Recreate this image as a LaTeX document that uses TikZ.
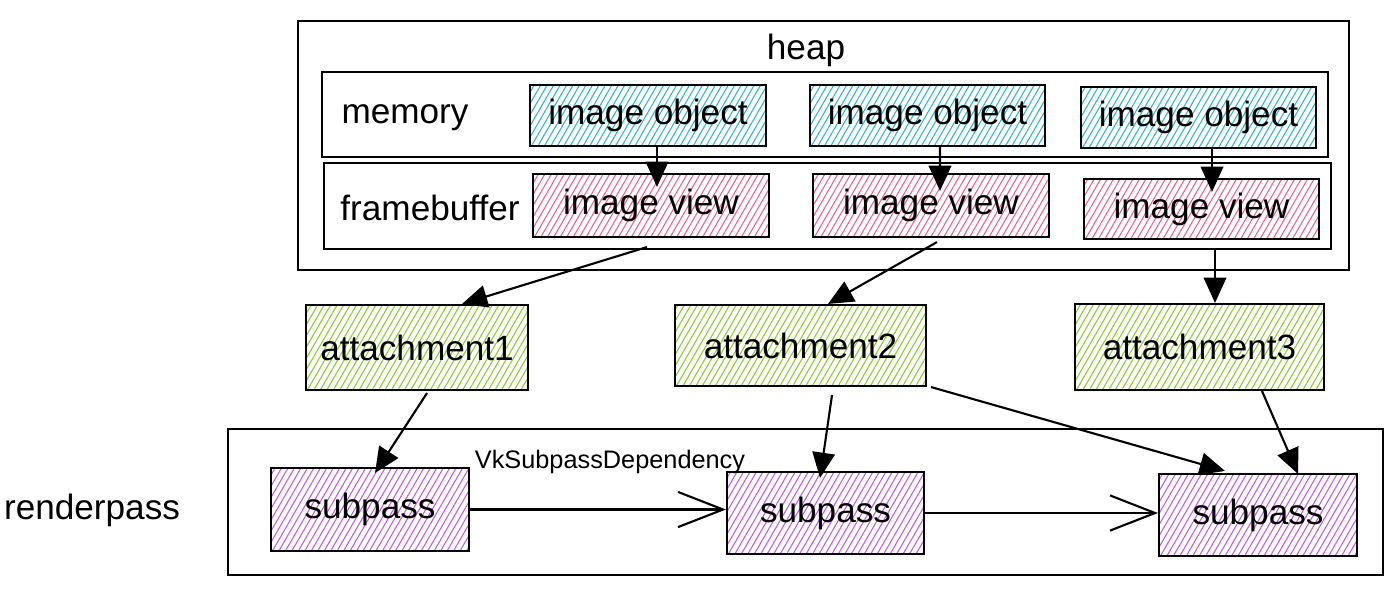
\documentclass[tikz,border=0pt]{standalone}
\usepackage{fontspec}
\setmainfont{Liberation Sans}
\usetikzlibrary{arrows.meta,fit,calc}
\definecolor{cyanh}{HTML}{2FB5CA}
\definecolor{pinkh}{HTML}{E8638C}
\definecolor{greenh}{HTML}{8CCB2E}
\definecolor{violeth}{HTML}{BF5CDC}
\tikzset{
  hatch/.style={path picture={
    \foreach \k in {0,...,50}{
      \draw[#1,line width=0.75pt] ($(path picture bounding box.south west)+(\k*4.6pt-45pt,0pt)$) -- ++(60:110pt);
    }}},
  cont/.style={draw, line width=1.5pt, inner sep=0pt},
  box/.style={draw, line width=1.5pt, inner sep=0pt},
  txt/.style={inner sep=0pt, font=\fontsize{25}{30}\selectfont},
  lbl/.style={inner sep=0pt, font=\fontsize{25}{30}\selectfont},
  small/.style={inner sep=0pt, font=\fontsize{18}{22}\selectfont},
  arr/.style={line width=1.5pt, -{Triangle[length=18pt,width=16pt]}},
  barb/.style={line width=1.5pt, -{Straight Barb[length=32pt,width=25pt,line width=1.5pt]}},
}
\begin{document}
\begin{tikzpicture}[x=0.025cm,y=-0.025cm]
\useasboundingbox (0,0) rectangle (1398,594);
% containers
\node[cont, fit={(298,21)(1349,270)}] (heapbox) {};
\node[cont, fit={(322,72)(1328,157)}] (membox) {};
\node[cont, fit={(324,163)(1331,249)}] (fbbox) {};
\node[cont, fit={(228,429)(1383,575)}] (rpbox) {};
% labels
\node[lbl] (heap) at (806,50) {heap};
\node[lbl] (memory) at (405,118) {memory};
\node[lbl] (framebuffer) at (430,208) {framebuffer};
\node[lbl] (renderpass) at (92,510) {renderpass};
% image objects
\node[box, hatch=cyanh, fit={(530,85)(766,146)}, label={[txt]center:image object}] (io1) {};
\node[box, hatch=cyanh, fit={(810,85)(1045,146)}, label={[txt]center:image object}] (io2) {};
\node[box, hatch=cyanh, fit={(1081,87)(1316,148)}, label={[txt]center:image object}] (io3) {};
% image views
\node[box, hatch=pinkh, fit={(533,174)(769,237)}, label={[txt]center:image view}] (iv1) {};
\node[box, hatch=pinkh, fit={(813,174)(1049,237)}, label={[txt]center:image view}] (iv2) {};
\node[box, hatch=pinkh, fit={(1084,179)(1319,239)}, label={[txt]center:image view}] (iv3) {};
% attachments
\node[box, hatch=greenh, fit={(306,305)(528,390)}, label={[txt]center:attachment1}] (at1) {};
\node[box, hatch=greenh, fit={(675,305)(926,386)}, label={[txt]center:attachment2}] (at2) {};
\node[box, hatch=greenh, fit={(1075,304)(1324,390)}, label={[txt]center:attachment3}] (at3) {};
% subpasses
\node[box, hatch=violeth, fit={(271,468)(469,551)}, label={[txt]center:subpass}] (sp1) {};
\node[box, hatch=violeth, fit={(727,472)(924,554)}, label={[txt]center:subpass}] (sp2) {};
\node[box, hatch=violeth, fit={(1159,474)(1357,556)}, label={[txt]center:subpass}] (sp3) {};
\node[small] (dep) at (610,462) {VkSubpassDependency};
% arrows
\draw[arr] ($(io1.south)+(9,0)$) -- ($(iv1.north)+(6,14)$);
\draw[arr] ($(io2.south)+(12.5,0)$) -- ($(iv2.north)+(9,18)$);
\draw[arr] ($(io3.south)+(13.5,0)$) -- ($(iv3.north)+(10.5,14)$);
\draw[arr] ($(iv1.south)+(-4,9)$) -- ($(at1.north)+(45,0)$);
\draw[arr] ($(iv2.south)+(6,4)$) -- ($(at2.north)+(27.5,0)$);
\draw[arr] ($(iv3.south)+(13.5,8)$) -- ($(at3.north)+(15.5,0)$);
\draw[arr] ($(at1.south)+(10,2)$) -- ($(sp1.north)+(5,6)$);
\draw[arr] ($(at2.south)+(31.5,8)$) -- ($(sp2.north)+(-5.5,7)$);
\draw[arr] ($(at2.south east)+(4,0)$) -- ($(sp3.north)+(-33,-2)$);
\draw[arr] ($(at3.south)+(62.5,0)$) -- ($(sp3.north)+(40,1)$);
\draw[barb] (sp1.east) -- (sp1.east -| sp2.west);
\draw[barb] (sp2.east) -- (sp2.east -| sp3.west);
\end{tikzpicture}
\end{document}
